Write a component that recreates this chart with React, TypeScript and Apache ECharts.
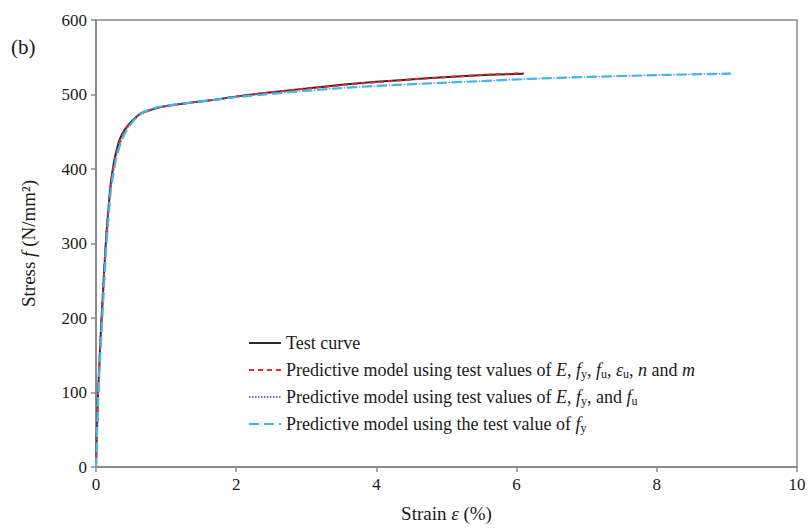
import React, { useEffect, useRef } from "react";
import * as echarts from "echarts";

const testStrain = [0, 0.03, 0.08, 0.14, 0.2, 0.24, 0.28, 0.34, 0.41, 0.5, 0.63, 0.77, 0.96, 1.34, 1.7, 2.06, 2.5, 3.0, 3.5, 4.0, 4.77, 5.4, 6.1];
const testStress = [0, 100, 200, 300, 371, 400, 420, 440, 453, 463, 474, 479, 484, 489, 493, 498, 503, 508, 513, 517, 522, 525.5, 528];

const model1Strain = [0, 0.03, 0.08, 0.14, 0.2, 0.24, 0.28, 0.35, 0.42, 0.51, 0.63, 0.77, 0.96, 1.34, 1.7, 2.06, 2.5, 3.0, 3.5, 4.0, 4.77, 5.4, 6.1];
const model1Stress = [0, 100, 200, 300, 370, 398, 418, 439, 453, 463, 474, 479, 484, 489, 493, 498, 503, 508, 512.5, 516.5, 522, 525.5, 529];

const model2Strain = [0, 0.035, 0.09, 0.15, 0.21, 0.25, 0.29, 0.36, 0.44, 0.55, 0.66, 0.8, 1.0, 1.34, 1.7, 2.06, 2.77, 3.4, 4.0, 4.77, 5.5, 6.2, 7.0, 8.0, 9.06];
const model2Stress = [0, 100, 200, 300, 371, 396, 416, 438, 453, 467, 475.5, 481, 485, 489, 493.5, 497.5, 503.5, 508, 511.5, 515, 518, 521, 523.5, 526, 528.5];

const model3Strain = [0, 0.035, 0.09, 0.15, 0.21, 0.25, 0.29, 0.36, 0.44, 0.55, 0.66, 0.8, 1.0, 1.34, 1.7, 2.06, 2.77, 3.4, 4.0, 4.77, 5.5, 6.2, 7.0, 8.0, 9.06];
const model3Stress = [0, 100, 200, 300, 370, 395, 415, 437, 452, 466.5, 475.5, 481, 485, 489, 493, 497, 503, 508, 511.5, 515, 518, 521, 523.5, 526, 528];

const seriesNames = [
  "Test curve",
  "Predictive model using test values of E, fy, fu, εu, n and m",
  "Predictive model using test values of E, fy, and fu",
  "Predictive model using the test value of fy",
];

const legendRich: Record<string, string> = {
  [seriesNames[0]]: "Test curve",
  [seriesNames[1]]:
    "Predictive model using test values of {i|E}, {i|f}{sub|y}, {i|f}{sub|u}, {i|ε}{sub|u}, {i|n} and {i|m}",
  [seriesNames[2]]: "Predictive model using test values of {i|E}, {i|f}{sub|y}, and {i|f}{sub|u}",
  [seriesNames[3]]: "Predictive model using the test value of {i|f}{sub|y}",
};

const xTicks = { min: 0, max: 10, interval: 2 };
const yTicks = { min: 0, max: 600, interval: 100 };

const FONT = "Liberation Serif";

function zip(xs: number[], ys: number[]) {
  return xs.map((x, i) => [x, ys[i]]);
}

export default function App() {
  const ref = useRef<HTMLDivElement>(null);
  useEffect(() => {
    if (!ref.current) return;
    const chart = echarts.init(ref.current, undefined, { renderer: "svg" });
    const axisColor = "#8a8a8a";
    const textColor = "#1a1a1a";
    const lineCommon = {
      type: "line",
      showSymbol: false,
      symbol: "none",
      smooth: 0.25,
    };
    chart.setOption({
      animation: false,
      backgroundColor: "#ffffff",
      grid: {
        left: 96,
        right: 12,
        top: 20,
        bottom: 60,
        show: true,
        borderColor: axisColor,
        borderWidth: 1.5,
      },
      graphic: [
        {
          type: "text",
          left: 11,
          top: 36,
          style: { text: "(b)", fontSize: 21, fontFamily: FONT, fill: textColor },
        },
      ],
      legend: {
        orient: "vertical",
        left: 243,
        top: 328,
        itemWidth: 32,
        itemHeight: 10,
        itemGap: 7,
        data: seriesNames,
        itemStyle: { color: "transparent", borderWidth: 0, opacity: 0 },
        formatter: (name: string) => legendRich[name],
        textStyle: {
          fontFamily: FONT,
          fontSize: 18,
          color: textColor,
          lineHeight: 20,
          rich: {
            i: { fontFamily: FONT, fontSize: 18, fontStyle: "italic", color: textColor, lineHeight: 20 },
            sub: { fontFamily: FONT, fontSize: 12, color: textColor, verticalAlign: "bottom", lineHeight: 12 },
          },
        },
      },
      xAxis: {
        type: "value",
        min: xTicks.min,
        max: xTicks.max,
        interval: xTicks.interval,
        name: "Strain {i|ε} (%)",
        nameLocation: "middle",
        nameGap: 37,
        nameTextStyle: {
          fontFamily: FONT,
          fontSize: 19,
          color: textColor,
          rich: { i: { fontFamily: FONT, fontSize: 19, fontStyle: "italic", color: textColor } },
        },
        axisLine: { show: true, lineStyle: { color: axisColor, width: 2 } },
        axisTick: { show: true, inside: false, length: 5, lineStyle: { color: axisColor, width: 1.5 } },
        axisLabel: { fontFamily: FONT, fontSize: 17, color: textColor, margin: 9 },
        splitLine: { show: false },
      },
      yAxis: {
        type: "value",
        min: yTicks.min,
        max: yTicks.max,
        interval: yTicks.interval,
        name: "Stress {i|f} (N/mm²)",
        nameLocation: "middle",
        nameGap: 58,
        nameRotate: 90,
        nameTextStyle: {
          fontFamily: FONT,
          fontSize: 19,
          color: textColor,
          rich: { i: { fontFamily: FONT, fontSize: 19, fontStyle: "italic", color: textColor } },
        },
        axisLine: { show: true, lineStyle: { color: axisColor, width: 2 } },
        axisTick: { show: true, inside: false, length: 5, lineStyle: { color: axisColor, width: 1.5 } },
        axisLabel: { fontFamily: FONT, fontSize: 17, color: textColor, margin: 9 },
        splitLine: { show: false },
      },
      series: [
        {
          ...lineCommon,
          name: seriesNames[0],
          data: zip(testStrain, testStress),
          lineStyle: { color: "#2b2b2b", width: 2, type: "solid" },
          itemStyle: { color: "#2b2b2b" },
          z: 2,
        },
        {
          ...lineCommon,
          name: seriesNames[1],
          data: zip(model1Strain, model1Stress),
          lineStyle: { color: "#e8282c", width: 2, type: [5, 4] },
          itemStyle: { color: "#e8282c" },
          z: 3,
        },
        {
          ...lineCommon,
          name: seriesNames[2],
          data: zip(model2Strain, model2Stress),
          lineStyle: { color: "#8a5fd6", width: 1.2, type: [1.5, 1.5] },
          itemStyle: { color: "#8a5fd6" },
          z: 4,
        },
        {
          ...lineCommon,
          name: seriesNames[3],
          data: zip(model3Strain, model3Stress),
          lineStyle: { color: "#3fb8ea", width: 2.2, type: [10, 5] },
          itemStyle: { color: "#3fb8ea" },
          z: 5,
        },
      ],
    });
    return () => chart.dispose();
  }, []);
  return <div ref={ref} style={{ width: 809, height: 528, position: "absolute", left: 0, top: 0 }} />;
}
